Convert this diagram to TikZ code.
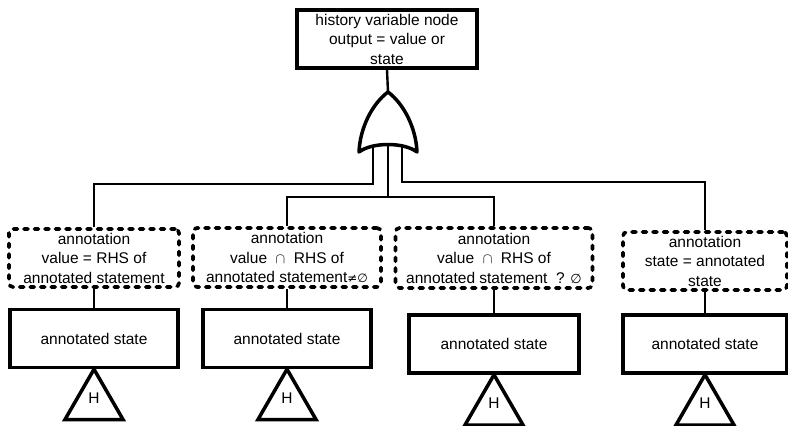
\documentclass[tikz,border=0pt]{standalone}
\usepackage{fontspec}
\setmainfont{Liberation Sans}
\newfontfamily\symfont{DejaVu Sans}
\usetikzlibrary{shapes.geometric}
\begin{document}
\begin{tikzpicture}[x=1pt,y=-1pt,
  txt/.style={font=\fontsize{15.5}{19.5}\selectfont, align=center, inner sep=0pt},
  topbox/.style={txt, draw, line width=3.5pt, minimum width=180pt, minimum height=58pt},
  ann/.style={txt, draw, line width=3.6pt, dash pattern=on 4pt off 6.5pt, line cap=round, rounded corners=4pt},
  stbox/.style={txt, draw, line width=3.5pt, minimum width=168pt, minimum height=58pt},
  tri/.style={draw, regular polygon, regular polygon sides=3, minimum size=67pt, inner sep=0pt, outer sep=0pt, line width=3.5pt, anchor=corner 1},
  wire/.style={line width=2.4pt},
  gate/.style={line width=3.5pt, line join=round}]
\useasboundingbox (0,0) rectangle (788,426);

\node[topbox] (top) at (387,39) {history variable node\\output = value or\\state};

\node[ann, minimum width=170pt, minimum height=58pt] (d1) at (94,258) {annotation\\value = RHS of\\annotated statement};
\node[ann, minimum width=188pt, minimum height=59pt] (d2) at (287,257.5) {annotation\\value \ $\cap$ \ RHS of\\annotated statement{\symfont\fontsize{12}{12}\selectfont ≠∅}};
\node[ann, minimum width=197pt, minimum height=60pt] (d3) at (494,258) {annotation\\value \ $\cap$ \ RHS of\\annotated statement \ ? {\symfont\fontsize{13}{13}\selectfont ∅}};
\node[ann, minimum width=164pt, minimum height=58pt] (d4) at (705,261) {annotation\\state = annotated\\state};

\node[stbox] (s1) at (94,338.5) {annotated state};
\node[stbox] (s2) at (287,338.5) {annotated state};
\node[stbox, minimum width=170pt, minimum height=58pt] (s3) at (494,344) {annotated state};
\node[stbox, minimum width=164pt, minimum height=58pt] (s4) at (705,344) {annotated state};

\foreach \i in {1,2,3,4}{
  \node[tri] (t\i) at (s\i.south) {};
  \node[txt] (h\i) at ([yshift=5pt]t\i.center) {H};
}

% OR gate
\coordinate (gT) at (388,92);
\draw[gate] (gT) .. controls (372,104) and (360,128) .. (359,152)
  .. controls (372,142) and (404,142) .. (417,152)
  .. controls (416,128) and (404,104) .. cycle;
\draw[wire] (top.south) -- (gT);

\coordinate (gL) at (373,146);
\coordinate (gC) at (388,145);
\coordinate (gR) at (402,146);
\coordinate (jL) at (373,184);
\coordinate (jC) at (388,197);
\coordinate (jR) at (402,182);
\draw[wire] (gL) -- (jL) -| (d1.north);
\draw[wire] (gR) -- (jR) -| (d4.north);
\draw[wire] (gC) -- (jC);
\draw[wire] (d2.north) |- (jC) -| (d3.north);

\foreach \i in {1,2,3,4}{
  \draw[wire] (d\i.south) -- (s\i.north);
}
\end{tikzpicture}
\end{document}
